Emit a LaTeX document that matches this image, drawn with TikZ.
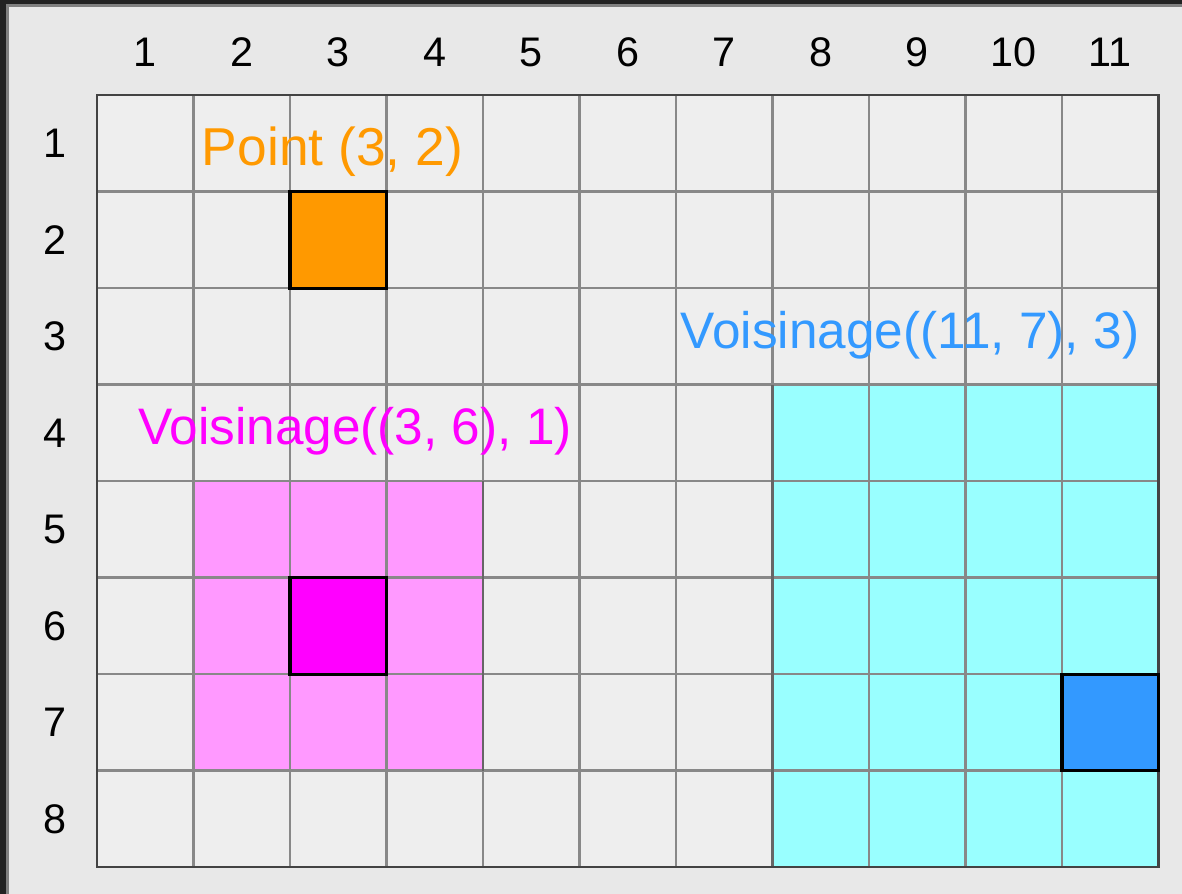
\documentclass[tikz,border=0pt]{standalone}
\usepackage{fontspec}
\setmainfont{Liberation Sans}
\definecolor{pagebg}{HTML}{E8E8E8}
\definecolor{cellbg}{HTML}{EEEEEE}
\definecolor{gridln}{HTML}{888888}
\definecolor{framedk}{HTML}{222222}
\definecolor{framelt}{HTML}{808080}
\definecolor{ptorange}{HTML}{FF9900}
\definecolor{ptmagenta}{HTML}{FF00FF}
\definecolor{nbpink}{HTML}{FF99FF}
\definecolor{nbcyan}{HTML}{99FFFF}
\definecolor{ptblue}{HTML}{3399FF}
\begin{document}
\begin{tikzpicture}[x=2.543cm,y=-2.543cm,
  axislbl/.style={font=\fontsize{31}{36}\selectfont,inner sep=0pt},
  title/.style={font=\fontsize{38.5}{46}\selectfont,inner sep=0pt,anchor=base},
  gridline/.style={draw=gridln,line width=1.9pt},
  ptcell/.style={draw=black,line width=2.3pt}]
% page and frame
\fill[pagebg] (-1.005,-0.985) rectangle (11.244,8.278);
\useasboundingbox (-1.005,-0.985) rectangle (11.244,8.278);
\fill[framedk] (-1.005,-0.985) rectangle (11.244,-0.944);
\fill[framelt] (-0.943,-0.944) rectangle (11.244,-0.913);
\fill[framedk] (-1.005,-0.985) rectangle (-0.943,8.278);
\fill[framelt] (-0.943,-0.944) rectangle (-0.912,8.278);
% cells
\fill[cellbg] (0,0) rectangle (11,8);
% neighbourhoods
\fill[nbpink] (1,4) rectangle (4,7);
\fill[nbcyan] (7,3) rectangle (11,8);
% grid
\foreach \i in {1,...,10} \draw[gridline] (\i,0) -- (\i,8);
\foreach \j in {1,...,7} \draw[gridline] (0,\j) -- (11,\j);
\draw[draw=gray!80!black,line width=1.9pt] (4,4) -- (4,7);
\draw[draw=gray!80!black,line width=1.9pt] (7,3) -- (7,8);
\draw[draw=framedk!85,line width=2pt] (0,0) rectangle (11,8);
% points
\filldraw[ptcell,fill=ptorange] (2,1) rectangle (3,2);
\filldraw[ptcell,fill=ptmagenta] (2,5) rectangle (3,6);
\filldraw[ptcell,fill=ptblue] (10,6) rectangle (11,7);
% axis labels
\foreach \c in {1,...,11} \node[axislbl] (col\c) at (\c-0.5,-0.446) {\c};
\foreach \r in {1,...,8} \node[axislbl] (row\r) at (-0.435,\r-0.5) {\r};
% titles
\node[title,text=ptorange,font=\fontsize{40}{48}\selectfont] (ptlbl) at (2.44,0.726) {Point (3, 2)};
\node[title,text=ptmagenta] (nbmlbl) at (2.674,3.62) {Voisinage((3, 6), 1)};
\node[title,text=ptblue] (nbblbl) at (8.425,2.624) {Voisinage((11, 7), 3)};
\end{tikzpicture}
\end{document}
